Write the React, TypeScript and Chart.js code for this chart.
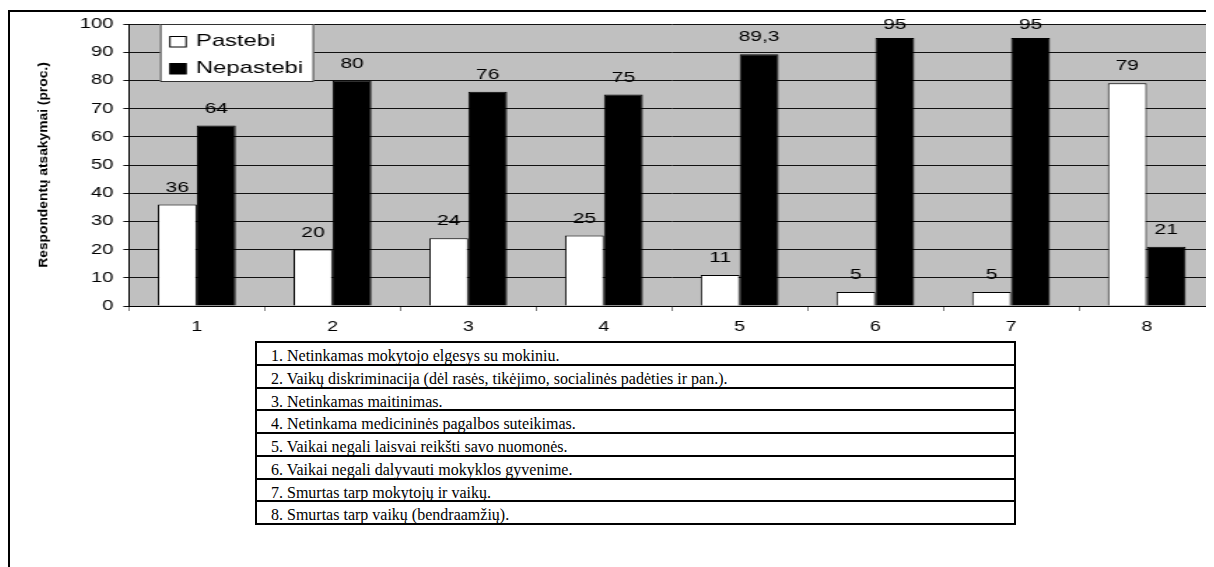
import React, { useEffect, useRef } from 'react';
import { Chart, registerables } from 'chart.js';

Chart.register(...registerables);

const categories = ['1', '2', '3', '4', '5', '6', '7', '8'];
const seriesNames = ['Pastebi', 'Nepastebi'];
const pastebi = [36, 20, 24, 25, 11, 5, 5, 79];
const nepastebi = [64, 80, 76, 75, 89.3, 95, 95, 21];
const yMin = 0;
const yMax = 100;
const yStep = 10;
const axisTitle = 'Respondentų atsakymai (proc.)';
const tableRows = [
  '1. Netinkamas mokytojo elgesys su mokiniu.',
  '2. Vaikų diskriminacija (dėl rasės, tikėjimo, socialinės padėties ir pan.).',
  '3. Netinkamas maitinimas.',
  '4. Netinkama medicininės pagalbos suteikimas.',
  '5. Vaikai negali laisvai reikšti savo nuomonės.',
  '6. Vaikai negali dalyvauti mokyklos gyvenime.',
  '7. Smurtas tarp mokytojų ir vaikų.',
  '8. Smurtas tarp vaikų (bendraamžių).',
];

const S = 1.4; // horizontal stretch of the chart drawing
const CSS_W = 1208;
const CSS_H = 330;
const INT_W = Math.round(CSS_W / S);
const SANS = "Arial, 'Liberation Sans', sans-serif";
const SERIF = "'Times New Roman', 'Liberation Serif', serif";

const decorPlugin = {
  id: 'decor',
  beforeDraw(chart: any) {
    const { ctx, chartArea: a } = chart;
    ctx.save();
    ctx.fillStyle = '#c0c0c0';
    ctx.fillRect(a.left, a.top, a.right - a.left, a.bottom - a.top);
    ctx.restore();
  },
  afterDatasetsDraw(chart: any) {
    const { ctx, chartArea: a } = chart;
    ctx.save();
    ctx.font = `15px ${SANS}`;
    ctx.fillStyle = '#000';
    ctx.textAlign = 'center';
    ctx.textBaseline = 'middle';
    chart.data.datasets.forEach((ds: any, di: number) => {
      const meta = chart.getDatasetMeta(di);
      meta.data.forEach((el: any, i: number) => {
        const v = ds.data[i];
        const y = Math.max(el.y - 17, a.top + 1);
        ctx.fillText(String(v).replace('.', ','), el.x, y);
      });
    });
    ctx.restore();
  },
  afterDraw(chart: any) {
    const { ctx, chartArea: a } = chart;
    // rotated axis title, drawn unstretched
    ctx.save();
    ctx.translate(25.7, (a.top + a.bottom) / 2);
    ctx.scale(1 / S, 1);
    ctx.rotate(-Math.PI / 2);
    ctx.font = `bold 13.8px ${SANS}`;
    ctx.fillStyle = '#000';
    ctx.textAlign = 'center';
    ctx.textBaseline = 'middle';
    ctx.fillText(axisTitle, 0, 0);
    ctx.restore();

    // legend box
    const lx = 108.6;
    const ly = 16;
    const lw = 110;
    const lh = 58;
    ctx.save();
    ctx.fillStyle = '#fff';
    ctx.fillRect(lx, ly, lw, lh);
    ctx.strokeStyle = '#333';
    ctx.lineWidth = 1;
    ctx.strokeRect(lx + 0.5, ly + 0.5, lw - 1, lh - 1);
    const ds = chart.data.datasets;
    const rows = [
      { my: 28.5, base: 37.6 },
      { my: 55.5, base: 65.2 },
    ];
    ds.forEach((d: any, i: number) => {
      const r = rows[i];
      ctx.fillStyle = d.backgroundColor;
      ctx.fillRect(115.7, r.my, 11.5, 10.5);
      ctx.strokeStyle = '#000';
      ctx.lineWidth = 1;
      ctx.strokeRect(115.7, r.my, 11.5, 10.5);
      ctx.fillStyle = '#000';
      ctx.font = `17px ${SANS}`;
      ctx.textAlign = 'left';
      ctx.textBaseline = 'alphabetic';
      ctx.fillText(d.label, 134.3, r.base);
    });
    ctx.restore();
  },
};

export default function App() {
  const ref = useRef<HTMLCanvasElement | null>(null);

  useEffect(() => {
    if (!ref.current) return;
    const chart = new Chart(ref.current, {
      type: 'bar',
      data: {
        labels: categories,
        datasets: [
          {
            label: seriesNames[0],
            data: pastebi,
            backgroundColor: '#ffffff',
            borderColor: '#000000',
            borderWidth: 1,
            categoryPercentage: 0.574,
            barPercentage: 1,
          },
          {
            label: seriesNames[1],
            data: nepastebi,
            backgroundColor: '#000000',
            borderColor: '#000000',
            borderWidth: 1,
            categoryPercentage: 0.574,
            barPercentage: 1,
          },
        ],
      },
      options: {
        animation: false,
        responsive: false,
        devicePixelRatio: 1,
        layout: { padding: { top: 16, right: 1, left: 0, bottom: 0 } },
        plugins: {
          legend: { display: false },
          tooltip: { enabled: false },
          title: { display: false },
        },
        scales: {
          x: {
            type: 'category',
            offset: true,
            grid: {
              display: true,
              drawOnChartArea: false,
              drawTicks: true,
              tickLength: 5,
              color: '#808080',
              offset: true,
            },
            border: { display: true, color: '#000', width: 1 },
            ticks: {
              color: '#000',
              font: { family: SANS, size: 14 },
              padding: 8,
              maxRotation: 0,
              autoSkip: false,
            },
            afterFit: (scale: any) => {
              scale.height = 32;
            },
          },
          y: {
            min: yMin,
            max: yMax,
            grid: {
              color: '#111',
              lineWidth: 1,
              drawTicks: true,
              tickLength: 4,
            },
            border: { display: true, color: '#000', width: 1 },
            ticks: {
              stepSize: yStep,
              color: '#000',
              font: { family: SANS, size: 14.5 },
              padding: 7,
            },
            title: { display: false },
            afterFit: (scale: any) => {
              scale.width = 86.4;
            },
          },
        },
      },
      plugins: [decorPlugin],
    } as any);
    return () => chart.destroy();
  }, []);

  return (
    <div style={{ position: 'relative', width: 1206, height: 559, overflow: 'hidden' }}>
      <div
        style={{
          position: 'absolute',
          left: 0,
          top: 2,
          width: 2000,
          height: 2000,
          borderTop: '2px solid #000',
          borderLeft: '2px solid #000',
        }}
      />
      <canvas
        ref={ref}
        width={INT_W}
        height={CSS_H}
        style={{ position: 'absolute', left: 0, top: 0, width: CSS_W, height: CSS_H }}
      />
      <div
        style={{
          position: 'absolute',
          left: 247,
          top: 333,
          width: 761,
          boxSizing: 'border-box',
          border: '2px solid #000',
          background: '#fff',
          fontFamily: SERIF,
          fontSize: 17.5,
          color: '#000',
        }}
      >
        {tableRows.map((t, i) => (
          <div
            key={i}
            style={{
              height: 20.75,
              lineHeight: '25px',
              paddingLeft: 14,
              whiteSpace: 'nowrap',
              overflow: 'visible',
              borderBottom: i < tableRows.length - 1 ? '2px solid #000' : 'none',
            }}
          >
            <span
              style={{
                display: 'inline-block',
                transform: `scaleX(${16 / 17.5})`,
                transformOrigin: 'left center',
              }}
            >
              {t}
            </span>
          </div>
        ))}
      </div>
    </div>
  );
}
